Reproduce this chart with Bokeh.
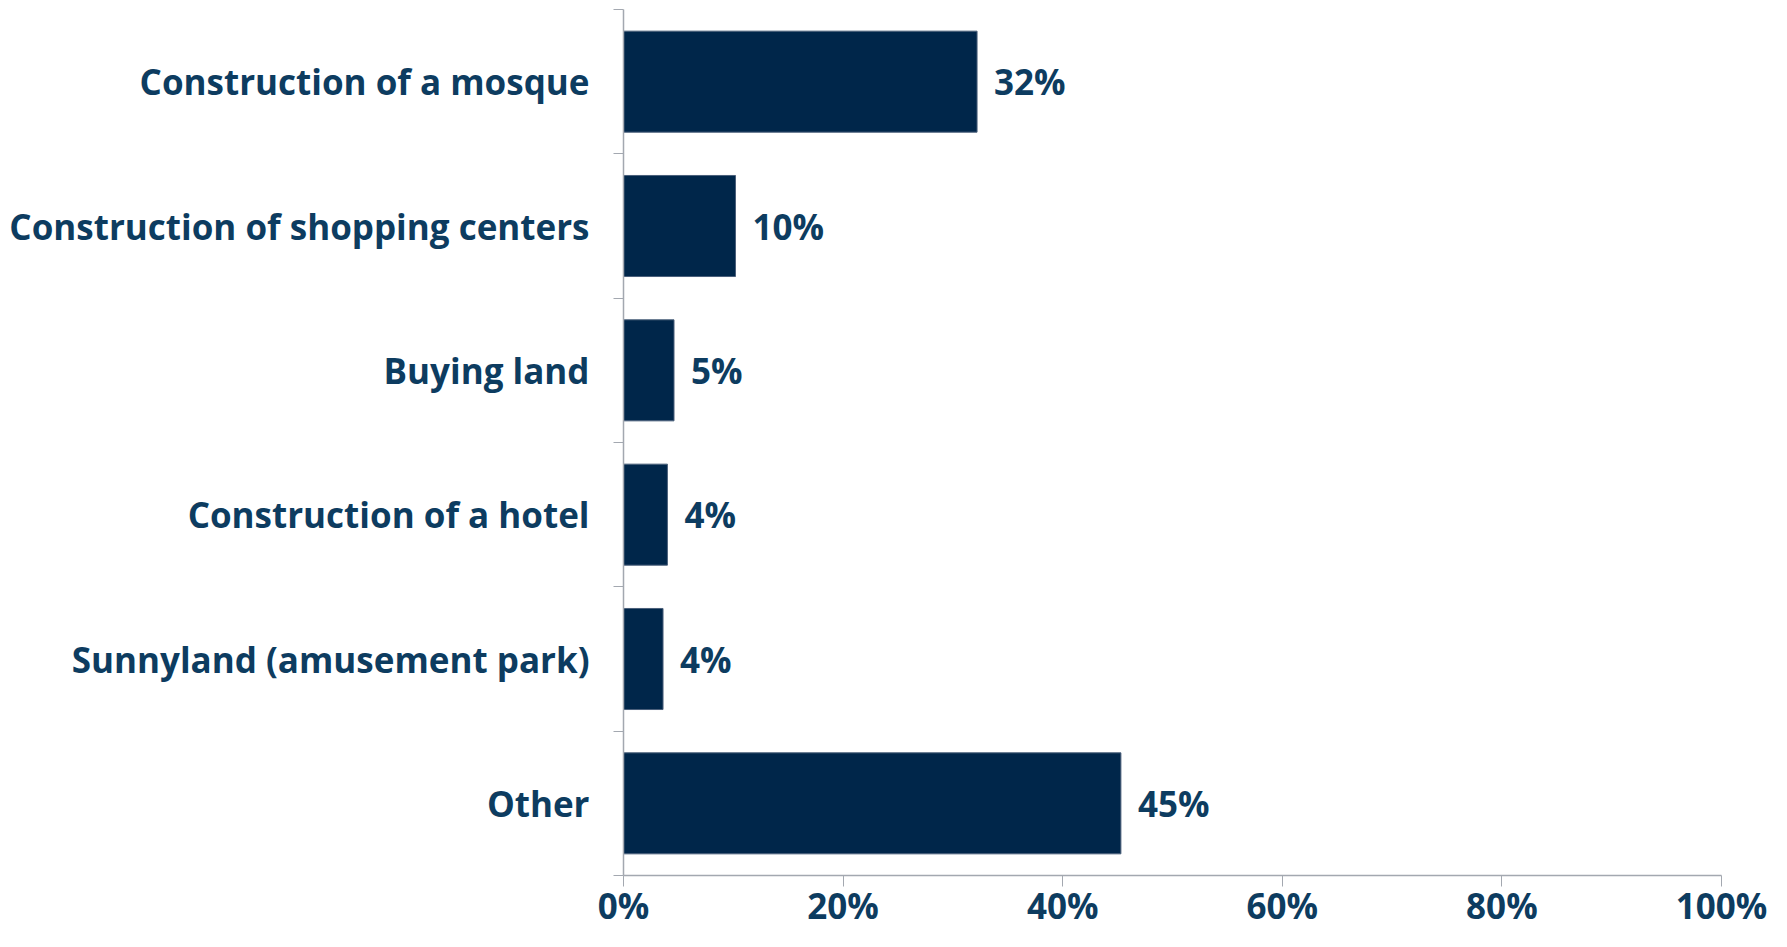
from bokeh.plotting import figure
from bokeh.models import ColumnDataSource, FixedTicker, Range1d, LabelSet
from bokeh.core.properties import value
from bokeh.embed import file_html
from bokeh.resources import INLINE

categories = ["Construction of a mosque", "Construction of shopping centers", "Buying land",
              "Construction of a hotel", "Sunnyland (amusement park)", "Other"]
values = [32.2, 10.2, 4.6, 4.0, 3.6, 45.3]
value_labels = ["32%", "10%", "5%", "4%", "4%", "45%"]
x_ticks = [0, 20, 40, 60, 80, 100]
x_tick_labels = ["0%", "20%", "40%", "60%", "80%", "100%"]

TEXT = "#0D3C60"
BAR = "#00264A"
AXIS = "#A3A8B0"
FONT = "Open Sans"
FS = "35px"
FSX = "35px"
WEIGHT = "bold"

n = len(categories)
ypos = [n - i - 0.5 for i in range(n)]
src = ColumnDataSource(dict(y=ypos, v=values, lab=value_labels))

p = figure(width=1771, height=931, output_backend="svg", toolbar_location=None,
           x_range=Range1d(0, 100), y_range=Range1d(0, n),
           min_border_left=623, min_border_right=50, min_border_top=9, min_border_bottom=48)
p.outline_line_color = None
p.grid.grid_line_color = None

p.hbar(y="y", right="v", left=0, height=0.70, source=src, fill_color=BAR,
       line_color="#4A5F7A", line_width=1)

labels = LabelSet(x="v", y="y", text="lab", source=src, x_offset=17, y_offset=0,
                  text_baseline="middle", text_align="left", text_color=TEXT,
                  text_font=value(FONT), text_font_size=FS, text_font_style=WEIGHT)
p.add_layout(labels)

# y axis
ya = p.yaxis[0]
ya.ticker = FixedTicker(ticks=ypos, minor_ticks=list(range(n + 1)))
ya.major_label_overrides = {y: c for y, c in zip(ypos, categories)}
ya.major_tick_out = 0
ya.major_tick_in = 0
ya.minor_tick_out = 10
ya.minor_tick_in = 0
ya.minor_tick_line_color = AXIS
ya.axis_line_color = AXIS
ya.axis_line_width = 1.5
ya.major_label_standoff = 24
ya.major_label_text_color = TEXT
ya.major_label_text_font = FONT
ya.major_label_text_font_size = FS
ya.major_label_text_font_style = WEIGHT

# x axis
xa = p.xaxis[0]
xa.ticker = FixedTicker(ticks=x_ticks, minor_ticks=[])
xa.major_label_overrides = {t: l for t, l in zip(x_ticks, x_tick_labels)}
xa.major_tick_out = 11
xa.major_tick_in = 0
xa.major_tick_line_color = AXIS
xa.axis_line_color = AXIS
xa.axis_line_width = 1.5
xa.major_label_standoff = -5
xa.major_label_text_color = TEXT
xa.major_label_text_font = FONT
xa.major_label_text_font_size = FSX
xa.major_label_text_font_style = WEIGHT

open("out.html", "w").write(file_html(p, INLINE))
